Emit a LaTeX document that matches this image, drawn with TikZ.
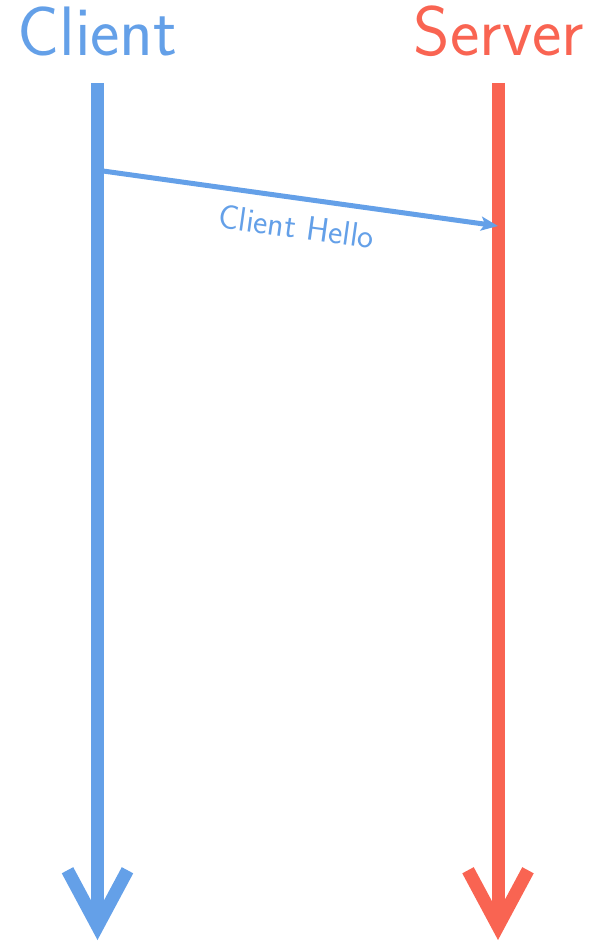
\documentclass[tikz,border=0pt]{standalone}
\usetikzlibrary{arrows.meta}
\definecolor{clientblue}{HTML}{64A0E8}
\definecolor{serverred}{HTML}{F96452}
\begin{document}
\begin{tikzpicture}[x=1pt,y=-1pt,
  title/.style={font=\sffamily\fontsize{70}{80}\selectfont, inner sep=0pt, anchor=base},
  lifeline/.style={line width=13pt, -{Straight Barb[length=56pt,width=60pt]}},
  message/.style={line width=5pt, -{Stealth[length=17pt,width=14pt,inset=4pt]}},
  msglabel/.style={font=\sffamily\fontsize{34}{40}\selectfont, inner sep=0pt, sloped, below=14pt}]
  \useasboundingbox (0,0) rectangle (602,941);

  % participants
  \node[title, text=clientblue] (client) at (97.5,56) {Client};
  \node[title, text=serverred] (server) at (499,56) {Server};

  % lifelines
  \coordinate (ctop) at (97.5,83);
  \coordinate (cbot) at (97.5,940);
  \coordinate (stop) at (498,83);
  \coordinate (sbot) at (498,940);
  \draw[lifeline, clientblue] (ctop) -- (cbot);
  \draw[lifeline, serverred] (stop) -- (sbot);

  % message
  \coordinate (hello from) at (103,171);
  \coordinate (hello to) at (498,226);
  \draw[message, clientblue] (hello from) -- node[msglabel, text=clientblue] (hellolabel) {Client Hello} (hello to);
\end{tikzpicture}
\end{document}
